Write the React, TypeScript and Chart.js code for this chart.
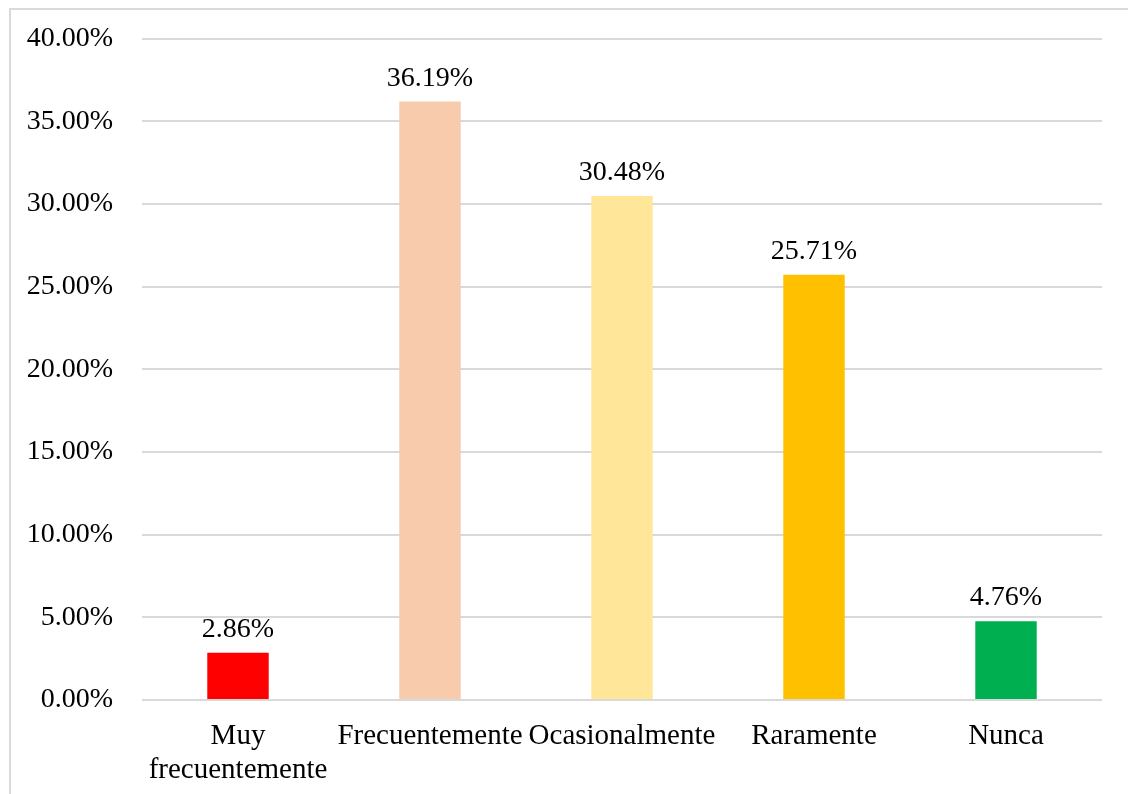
import React, { useEffect, useRef } from "react";
import { Chart, registerables } from "chart.js";

Chart.register(...registerables);

const categories: (string | string[])[] = [
  ["Muy", "frecuentemente"],
  "Frecuentemente",
  "Ocasionalmente",
  "Raramente",
  "Nunca",
];
const values: number[] = [2.86, 36.19, 30.48, 25.71, 4.76];
const barColors: string[] = ["#FF0000", "#F8CBAD", "#FFE699", "#FFC000", "#00B050"];
const yMin = 0;
const yMax = 40;
const yStep = 5;

const FONT = "'Liberation Serif', 'Times New Roman', serif";

const dataLabelPlugin = {
  id: "dataLabels",
  afterDatasetsDraw(chart: any) {
    const ctx = chart.ctx;
    const meta = chart.getDatasetMeta(0);
    ctx.save();
    ctx.font = `28px ${FONT}`;
    ctx.fillStyle = "#000000";
    ctx.textAlign = "center";
    ctx.textBaseline = "alphabetic";
    meta.data.forEach((bar: any, i: number) => {
      const v = chart.data.datasets[0].data[i] as number;
      ctx.fillText(v.toFixed(2) + "%", bar.x, bar.y - 16);
    });
    ctx.restore();
  },
};

export default function App() {
  const ref = useRef<HTMLCanvasElement>(null);
  useEffect(() => {
    if (!ref.current) return;
    const chart = new Chart(ref.current, {
      type: "bar",
      data: {
        labels: categories,
        datasets: [
          {
            data: values,
            backgroundColor: barColors,
            borderWidth: 0,
            barPercentage: 0.32,
            categoryPercentage: 1,
          },
        ],
      },
      options: {
        animation: false,
        responsive: false,
        maintainAspectRatio: false,
        layout: { padding: { top: 38.5, right: 26, left: 0, bottom: 0 } },
        plugins: {
          legend: { display: false },
          tooltip: { enabled: false },
        },
        scales: {
          x: {
            grid: { display: false, drawTicks: false },
            border: { display: false },
            ticks: {
              color: "#000000",
              font: { family: FONT, size: 29, lineHeight: 1.15 },
              maxRotation: 0,
              minRotation: 0,
              autoSkip: false,
              padding: 20,
            },
            afterFit(scale: any) {
              scale.height = 94;
              scale.paddingLeft = 0;
              scale.paddingRight = 0;
            },
          },
          y: {
            min: yMin,
            max: yMax,
            grid: { color: "#D9D9D9", lineWidth: 2, drawTicks: false },
            border: { display: false },
            ticks: {
              stepSize: yStep,
              color: "#000000",
              font: { family: FONT, size: 28 },
              padding: 29,
              callback: (v: any) => Number(v).toFixed(2) + "%",
            },
            afterFit(scale: any) {
              scale.width = 142;
              scale.paddingTop = 0;
              scale.paddingBottom = 0;
            },
          },
        },
      },
      plugins: [dataLabelPlugin],
    });
    return () => chart.destroy();
  }, []);

  return (
    <>
      <div
        style={{
          position: "fixed",
          left: 9,
          top: 8,
          width: 1400,
          height: 1000,
          borderLeft: "2px solid #D9D9D9",
          borderTop: "2px solid #D9D9D9",
          boxSizing: "border-box",
        }}
      />
      <canvas
        ref={ref}
        width={1128}
        height={794}
        style={{ position: "fixed", left: 0, top: 0, width: 1128, height: 794 }}
      />
    </>
  );
}
